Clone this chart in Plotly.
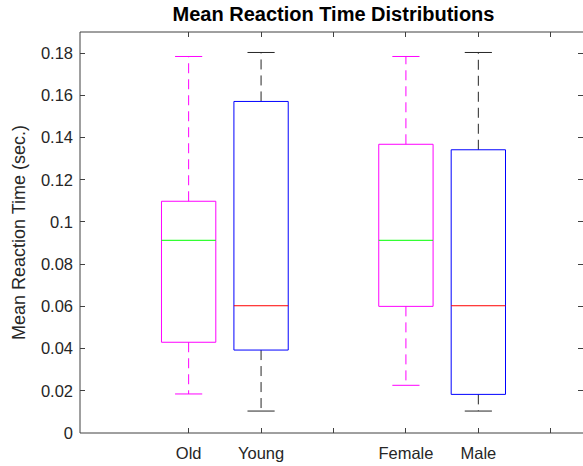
import plotly.graph_objects as go

# ---- data ----
categories = ["Old", "Young", "Female", "Male"]
lower_whisker = [0.0185, 0.0104, 0.0226, 0.0104]
q1 = [0.0430, 0.0393, 0.0600, 0.0183]
median = [0.0913, 0.0603, 0.0913, 0.0603]
q3 = [0.1098, 0.1571, 0.1368, 0.1342]
upper_whisker = [0.1784, 0.1803, 0.1784, 0.1803]
y_tick_vals = [0, 0.02, 0.04, 0.06, 0.08, 0.1, 0.12, 0.14, 0.16, 0.18]
y_tick_text = ["0", "0.02", "0.04", "0.06", "0.08", "0.1", "0.12", "0.14", "0.16", "0.18"]

# ---- layout / style ----
positions = [1, 2, 4, 5]
box_colors = ["#FF00FF", "#0000FF", "#FF00FF", "#0000FF"]
median_colors = ["#00FF00", "#FF0000", "#00FF00", "#FF0000"]
whisker_colors = ["#FF00FF", "#262626", "#FF00FF", "#262626"]
half_w = 0.375
cap_w = 0.1875

fig = go.Figure()
for i, cat in enumerate(categories):
    p = positions[i]
    # whiskers (dashed)
    fig.add_trace(go.Scatter(
        x=[p, p, None, p, p],
        y=[q3[i], upper_whisker[i], None, q1[i], lower_whisker[i]],
        mode="lines", line=dict(color=whisker_colors[i], width=1, dash="10px,6px"),
        hoverinfo="skip", showlegend=False))
    # caps
    fig.add_trace(go.Scatter(
        x=[p - cap_w, p + cap_w, None, p - cap_w, p + cap_w],
        y=[upper_whisker[i], upper_whisker[i], None, lower_whisker[i], lower_whisker[i]],
        mode="lines", line=dict(color=whisker_colors[i], width=1),
        hoverinfo="skip", showlegend=False))
    # box
    fig.add_trace(go.Scatter(
        x=[p - half_w, p + half_w, p + half_w, p - half_w, p - half_w],
        y=[q1[i], q1[i], q3[i], q3[i], q1[i]],
        mode="lines", line=dict(color=box_colors[i], width=1),
        hoverinfo="skip", showlegend=False))
    # median
    fig.add_trace(go.Scatter(
        x=[p - half_w, p + half_w],
        y=[median[i], median[i]],
        mode="lines", line=dict(color=median_colors[i], width=1),
        hoverinfo="skip", showlegend=False))

axis_color = "#404040"
font_family = "Liberation Sans, Arial, sans-serif"

fig.update_layout(
    width=583, height=466,
    margin=dict(l=80, r=0, t=32, b=33),
    paper_bgcolor="white", plot_bgcolor="white",
    showlegend=False,
    hovermode=False,
    font=dict(family=font_family, size=16.5, color="#262626"),
    title=dict(text="<b>Mean Reaction Time Distributions</b>",
               x=0.504, xanchor="center", xref="paper",
               y=1, yref="container", yanchor="top", pad=dict(t=7),
               font=dict(family=font_family, size=20, color="black")),
    xaxis=dict(range=[-0.5, 6.445], tickmode="array",
               tickvals=[1, 2, 3, 4, 5, 6],
               ticktext=["Old", "Young", "", "Female", "Male", ""],
               ticks="inside", ticklen=5, tickcolor=axis_color,
               mirror="ticks", showline=False, showgrid=False, zeroline=False,
               ticklabelstandoff=8,
               tickfont=dict(size=16.5, color="#262626")),
    yaxis=dict(range=[0, 0.19], tickmode="array",
               tickvals=y_tick_vals, ticktext=y_tick_text,
               ticks="inside", ticklen=5, tickcolor=axis_color,
               mirror="ticks", showline=False, showgrid=False, zeroline=False,
               ticklabelstandoff=6,
               title=dict(text="Mean Reaction Time (sec.)", standoff=10,
                          font=dict(size=18, color="#262626")),
               tickfont=dict(size=16.5, color="#262626")),
)

# spines (left, bottom, top)
for x0, y0, x1, y1 in [(0, 0, 0, 1), (0, 0, 1, 0), (0, 1, 1, 1)]:
    fig.add_shape(type="line", xref="paper", yref="paper",
                  x0=x0, y0=y0, x1=x1, y1=y1,
                  line=dict(color=axis_color, width=1))

fig.write_html("out.html")
